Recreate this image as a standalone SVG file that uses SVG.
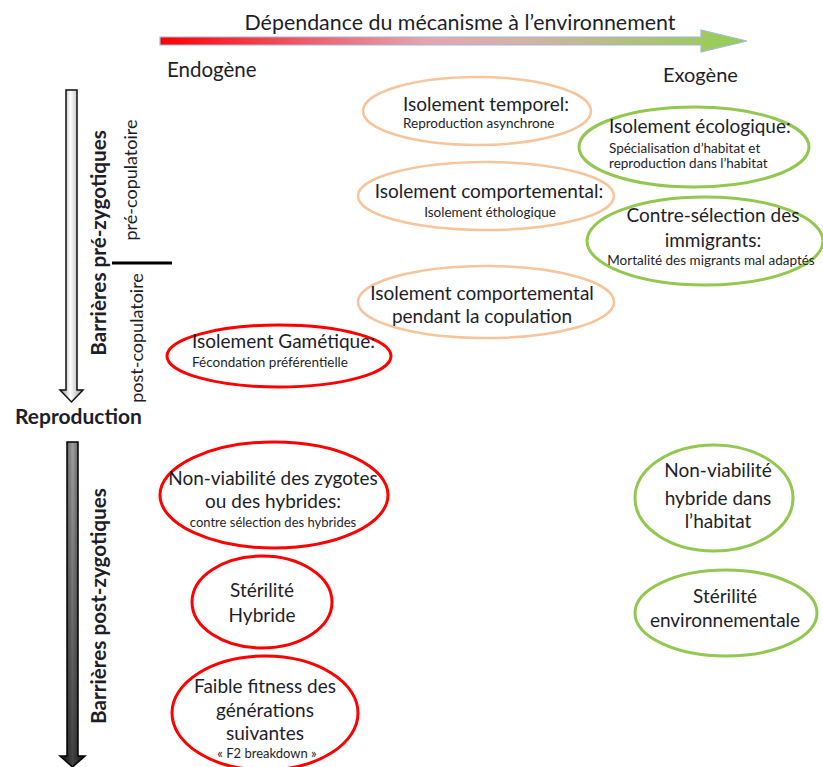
<svg xmlns="http://www.w3.org/2000/svg" width="823" height="767" viewBox="0 0 823 767">
<defs>
<linearGradient id="gTop" x1="0" y1="0" x2="1" y2="0">
<stop offset="0" stop-color="#FF0000"/>
<stop offset="0.2" stop-color="#F24A55"/>
<stop offset="0.45" stop-color="#E6A4AE"/>
<stop offset="0.62" stop-color="#D4B3A4"/>
<stop offset="0.8" stop-color="#B3C07A"/>
<stop offset="1" stop-color="#92D050"/>
</linearGradient>
<linearGradient id="gArrow1" x1="0" y1="0" x2="1" y2="0">
<stop offset="0" stop-color="#8A8A8A"/>
<stop offset="0.45" stop-color="#FFFFFF"/>
<stop offset="1" stop-color="#9A9A9A"/>
</linearGradient>
<linearGradient id="gArrow2" x1="0" y1="0" x2="1" y2="0">
<stop offset="0" stop-color="#1A1A1A"/>
<stop offset="0.5" stop-color="#A0A0A0"/>
<stop offset="1" stop-color="#2A2A2A"/>
</linearGradient>
<linearGradient id="gArrow2v" x1="0" y1="0" x2="0" y2="1">
<stop offset="0" stop-color="#000" stop-opacity="0"/>
<stop offset="1" stop-color="#000" stop-opacity="0.6"/>
</linearGradient>
</defs>
<style>
text { font-family: "Lato", "Liberation Sans", sans-serif; fill: #1E1E28; }
.big { font-size: 19px; }
.sm { font-size: 13.5px; }
.xs { font-size: 13px; }
.c { text-anchor: middle; }
.b { font-weight: bold; }
.peach { fill: none; stroke: #F8C49C; stroke-width: 2.5; }
.green { fill: none; stroke: #92C850; stroke-width: 3; }
.red { fill: none; stroke: #FF0000; stroke-width: 3; }
</style>

<g id="axis-top">
<path d="M160,37 L701,37 L701,30 L747,41 L701,52 L701,45 L160,45 Z" fill="url(#gTop)" stroke="#A4B8E0" stroke-width="1.2"/>
<text x="460" y="30" class="c" style="font-size:21.4px">Dépendance du mécanisme à l’environnement</text>
<text x="167" y="77" style="font-size:20.5px">Endogène</text>
<text x="663" y="82" style="font-size:20px">Exogène</text>
</g>

<g id="axis-pre">
<path d="M66,90 L77,90 L77,390 L83,390 L71.5,402 L60,390 L66,390 Z" fill="url(#gArrow1)" stroke="#111" stroke-width="1.5"/>
<text transform="translate(106,243) rotate(-90)" class="c b" style="font-size:20.7px">Barrières pré-zygotiques</text>
<text transform="translate(137,180) rotate(-90)" class="c" style="font-size:18px">pré-copulatoire</text>
<text transform="translate(143,338) rotate(-90)" class="c" style="font-size:18px">post-copulatoire</text>
<line x1="112" y1="263" x2="172" y2="263" stroke="#000" stroke-width="3"/>
</g>

<g id="reproduction">
<text x="15" y="424" class="b" style="font-size:21px">Reproduction</text>
</g>

<g id="axis-post">
<path d="M67,442 L78,442 L78,756 L85,756 L72.5,767 L60,756 L67,756 Z" fill="url(#gArrow2)" stroke="#000" stroke-width="1.5"/>
<path d="M67,442 L78,442 L78,756 L85,756 L72.5,767 L60,756 L67,756 Z" fill="url(#gArrow2v)"/>
<text transform="translate(106,606) rotate(-90)" class="c b" style="font-size:20.7px">Barrières post-zygotiques</text>
</g>

<g id="temporel">
<ellipse cx="477" cy="111" rx="114" ry="34" class="peach"/>
<text x="403" y="111" class="big">Isolement temporel:</text>
<text x="403" y="128" class="sm">Reproduction asynchrone</text>
</g>

<g id="comportemental">
<ellipse cx="486" cy="196" rx="128" ry="34" class="peach"/>
<text x="489" y="198" class="big c">Isolement comportemental:</text>
<text x="490" y="217" class="sm c">Isolement éthologique</text>
</g>

<g id="copulation">
<ellipse cx="486" cy="302" rx="128" ry="36" class="peach"/>
<text x="482" y="300" class="big c">Isolement comportemental</text>
<text x="482" y="323" class="big c">pendant la copulation</text>
</g>

<g id="ecologique">
<ellipse cx="694" cy="147" rx="115" ry="40" class="green"/>
<text x="609" y="133" class="big">Isolement écologique:</text>
<text x="609" y="153" class="sm">Spécialisation d’habitat et</text>
<text x="609" y="168" class="sm">reproduction dans l’habitat</text>
</g>

<g id="contre-selection">
<ellipse cx="705" cy="241" rx="118" ry="44" class="green"/>
<text x="713" y="222" class="big c">Contre-sélection des</text>
<text x="713" y="247" class="big c">immigrants:</text>
<text x="711" y="265" class="sm c">Mortalité des migrants mal adaptés</text>
</g>

<g id="gametique">
<ellipse cx="279" cy="356" rx="112" ry="31" class="red"/>
<text x="192" y="348" class="big">Isolement Gamétique:</text>
<text x="192" y="367" class="sm">Fécondation préférentielle</text>
</g>

<g id="non-viabilite">
<ellipse cx="274" cy="495" rx="114" ry="53" class="red"/>
<text x="273" y="485" class="big c">Non-viabilité des zygotes</text>
<text x="273" y="508" class="big c">ou des hybrides:</text>
<text x="273" y="527" class="xs c">contre sélection des hybrides</text>
</g>

<g id="sterilite-hybride">
<ellipse cx="262" cy="602" rx="70" ry="46" class="red"/>
<text x="262" y="597" class="big c">Stérilité</text>
<text x="262" y="622" class="big c">Hybride</text>
</g>

<g id="faible-fitness">
<ellipse cx="265" cy="713" rx="93" ry="57" class="red"/>
<text x="265" y="693" class="big c">Faible fitness des</text>
<text x="265" y="717" class="big c">générations</text>
<text x="265" y="740" class="big c">suivantes</text>
<text x="267" y="758" class="xs c">« F2 breakdown »</text>
</g>

<g id="non-viabilite-habitat">
<ellipse cx="714" cy="498" rx="79" ry="53" class="green"/>
<text x="718" y="477" class="big c">Non-viabilité</text>
<text x="718" y="505" class="big c">hybride dans</text>
<text x="718" y="528" class="big c">l’habitat</text>
</g>

<g id="sterilite-env">
<ellipse cx="726" cy="613" rx="91" ry="43" class="green"/>
<text x="725" y="603" class="big c">Stérilité</text>
<text x="725" y="627" class="big c">environnementale</text>
</g>

<g id="connectors"></g>
</svg>
